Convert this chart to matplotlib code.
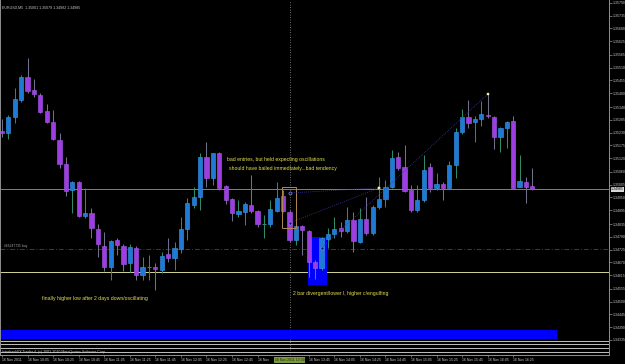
import matplotlib
matplotlib.use('Agg')
import matplotlib.pyplot as plt
from matplotlib.patches import Rectangle

plt.rcParams['font.family'] = ['Liberation Sans', 'DejaVu Sans']

# ---- data: EURUSD M5 candles (16 Nov 2011, from 09:45) ----
opens = [1.35237, 1.35228, 1.35297, 1.35371, 1.35470, 1.35414, 1.35392, 1.35323, 1.35276, 1.35198,
         1.35095, 1.34982, 1.35017, 1.34870, 1.34883, 1.34814, 1.34741, 1.34650, 1.34767, 1.34741,
         1.34667, 1.34732, 1.34616, 1.34650, 1.34650, 1.34637, 1.34706, 1.34689, 1.34728, 1.34814,
         1.34918, 1.34952, 1.35125, 1.35034, 1.35142, 1.35000, 1.34943, 1.34879, 1.34887, 1.34918,
         1.34892, 1.34836, 1.34836, 1.34892, 1.34956, 1.34887, 1.34767, 1.34827, 1.34805, 1.34672,
         1.34646, 1.34771, 1.34792, 1.34818, 1.34805, 1.34853, 1.34758, 1.34857, 1.34797, 1.34909,
         1.34943, 1.34995, 1.35125, 1.35082, 1.34982, 1.34896, 1.34939, 1.35082, 1.34991, 1.35008,
         1.34991, 1.35090, 1.35233, 1.35297, 1.35276, 1.35289, 1.35304, 1.35297, 1.35211, 1.35250,
         1.35280, 1.34995, 1.35017, 1.35001]
highs = [1.35289, 1.35306, 1.35422, 1.35478, 1.35552, 1.35461, 1.35401, 1.35353, 1.35327, 1.35228,
         1.35125, 1.35021, 1.35021, 1.34991, 1.34905, 1.34836, 1.34801, 1.34767, 1.34775, 1.34749,
         1.34749, 1.34741, 1.34693, 1.34702, 1.34667, 1.34715, 1.34775, 1.34758, 1.34866, 1.34948,
         1.34995, 1.35142, 1.35189, 1.35142, 1.35146, 1.35004, 1.34948, 1.34939, 1.34931, 1.35047,
         1.34896, 1.34874, 1.34939, 1.35017, 1.34982, 1.34896, 1.34831, 1.34831, 1.34810, 1.34680,
         1.34780, 1.34818, 1.34866, 1.34844, 1.34909, 1.34887, 1.34905, 1.34952, 1.34918, 1.35038,
         1.35026, 1.35155, 1.35146, 1.35177, 1.35004, 1.35004, 1.35133, 1.35099, 1.35056, 1.35017,
         1.35107, 1.35250, 1.35332, 1.35371, 1.35302, 1.35366, 1.35401, 1.35302, 1.35254, 1.35280,
         1.35302, 1.35133, 1.35038, 1.35079]
lows = [1.35211, 1.35202, 1.35271, 1.35362, 1.35401, 1.35384, 1.35314, 1.35271, 1.35198, 1.35077,
        1.34956, 1.34883, 1.34866, 1.34862, 1.34775, 1.34693, 1.34633, 1.34594, 1.34702, 1.34633,
        1.34629, 1.34594, 1.34594, 1.34594, 1.34551, 1.34624, 1.34672, 1.34637, 1.34711, 1.34767,
        1.34905, 1.34896, 1.34995, 1.35004, 1.34982, 1.34922, 1.34849, 1.34866, 1.34831, 1.34883,
        1.34823, 1.34775, 1.34823, 1.34887, 1.34887, 1.34758, 1.34745, 1.34702, 1.34607, 1.34598,
        1.34637, 1.34732, 1.34775, 1.34780, 1.34797, 1.34715, 1.34754, 1.34788, 1.34788, 1.34900,
        1.34909, 1.34991, 1.35069, 1.34974, 1.34887, 1.34887, 1.34931, 1.34974, 1.34982, 1.34939,
        1.34991, 1.35034, 1.35224, 1.35250, 1.35189, 1.35258, 1.35293, 1.35159, 1.35146, 1.35164,
        1.34987, 1.34995, 1.34926, 1.34982]
closes = [1.35228, 1.35297, 1.35375, 1.35470, 1.35409, 1.35396, 1.35319, 1.35276, 1.35202, 1.35095,
          1.34978, 1.35017, 1.34870, 1.34883, 1.34818, 1.34749, 1.34650, 1.34762, 1.34745, 1.34663,
          1.34736, 1.34616, 1.34650, 1.34650, 1.34642, 1.34698, 1.34689, 1.34732, 1.34814, 1.34926,
          1.34952, 1.35125, 1.35034, 1.35142, 1.34991, 1.34939, 1.34883, 1.34892, 1.34922, 1.34892,
          1.34836, 1.34836, 1.34900, 1.34948, 1.34892, 1.34767, 1.34827, 1.34810, 1.34672, 1.34646,
          1.34775, 1.34792, 1.34814, 1.34805, 1.34853, 1.34762, 1.34857, 1.34797, 1.34909, 1.34943,
          1.34995, 1.35120, 1.35077, 1.34978, 1.34896, 1.34939, 1.35069, 1.34991, 1.35008, 1.34991,
          1.35090, 1.35233, 1.35297, 1.35271, 1.35289, 1.35310, 1.35300, 1.35211, 1.35250, 1.35276,
          1.34991, 1.35021, 1.34995, 1.34985]

# time labels (the 13:05 label is partly hidden by the cursor box, 13:25 fully hidden)
time_tick_idx = [0, 4, 8, 12, 16, 20, 24, 28, 32, 36, 40, 48, 52, 56, 60, 64, 68, 72, 76, 80]
time_tick_labels = ['16 Nov 2011', '16 Nov 10:05', '16 Nov 10:25', '16 Nov 10:45', '16 Nov 11:05',
                    '16 Nov 11:25', '16 Nov 11:45', '16 Nov 12:05', '16 Nov 12:25', '16 Nov 12:45',
                    '16 Nov', '16 Nov 13:45', '16 Nov 14:05', '16 Nov 14:25',
                    '16 Nov 14:45', '16 Nov 15:05', '16 Nov 15:25', '16 Nov 15:45', '16 Nov 16:05',
                    '16 Nov 16:25']
price_ticks = [1.35790, 1.35735, 1.35680, 1.35625, 1.35565, 1.35510, 1.35455, 1.35400, 1.35340,
               1.35285, 1.35230, 1.35175, 1.35120, 1.35060, 1.35005, 1.34950, 1.34895, 1.34835,
               1.34780, 1.34725, 1.34670, 1.34615, 1.34555, 1.34500, 1.34445, 1.34390, 1.34335]
price_labels = ['%.5f' % p for p in price_ticks]

bid_price = 1.34985
support_level = 1.34629
order_level = 1.34727
order_label = '#65247735 buy'
cursor_idx = 45
cursor_label = '16 Nov 2011 13:30'

# trade arrows: (open idx, open price, close idx, close price)
trade_open_idx = [45, 45, 50]
trade_open_px = [1.34969, 1.34840, 1.34732]
trade_close_idx = [59, 59, 76]
trade_close_px = [1.34991, 1.34991, 1.35396]

# rectangles (idx0, idx1, price_low, price_high)
box_orange = (43.8, 46.0, 1.34818, 1.34995)
box_blue = (47.9, 50.9, 1.34573, 1.34780)

notes = [
    (35.2, 1.35112, 'bad entries, but held expecting oscillations'),
    (35.5, 1.35073, 'should have bailed immediately...bad tendency'),
    (45.5, 1.34534, '2 bar divergent/lower l, higher c/engulfing'),
    (6.3, 1.34512, 'finally higher low after 2 days down/oscillating'),
]
title_text = 'EURUSD,M5  1.35001 1.35079 1.34982 1.34985'
footer_text = 'InterbankFX Trader 4, (c) 2001-2010 MetaQuotes Software Corp.'

bottom_bar = (1.34340, 1.34378)
bottom_lines = [1.34329, 1.34316, 1.34301, 1.34283]

# ---- style ----
BULL_FACE, BULL_EDGE, BULL_WICK = '#1e7ad4', '#3a9af0', '#2e8b67'
BEAR_FACE, BEAR_EDGE, BEAR_WICK = '#9c3ee2', '#ab58f0', '#707088'
TXT = '#e8e050'
GREY = '#c8c8c8'

W, H = 625, 364
fig = plt.figure(figsize=(W / 100, H / 100), dpi=100, facecolor='black')
ax = fig.add_axes([0, 9 / H, 609 / W, 355 / H], facecolor='black')
ax.set_xlim(-0.313, 94.99)
ax.set_ylim(1.34270, 1.35802)

# horizontal lines / objects
ax.axhline(bid_price, color='#808080', lw=0.7, zorder=1)
ax.axhline(support_level, color='#d4d49a', lw=0.7, zorder=1)
ax.axhline(order_level, color='#8b1a1a', lw=0.7, ls=(0, (5, 2, 1, 2)), zorder=1)
ax.text(0.3, order_level + 0.00004, order_label, fontsize=2.4, color='#a0a0a0', va='bottom', ha='left')
ax.axvline(cursor_idx, color='#909090', lw=0.6, ls=(0, (1, 2)), zorder=1)

ax.add_patch(Rectangle((box_blue[0], box_blue[2]), box_blue[1] - box_blue[0], box_blue[3] - box_blue[2],
                       facecolor='#0000ff', edgecolor='none', zorder=1.5))
ax.add_patch(Rectangle((box_orange[0], box_orange[2]), box_orange[1] - box_orange[0],
                       box_orange[3] - box_orange[2], facecolor='none', edgecolor='#b08850',
                       lw=0.7, zorder=4))

ax.axhspan(bottom_bar[0], bottom_bar[1], xmin=0, xmax=557 / 609, color='#0000ff', lw=0, zorder=1)
for p in bottom_lines:
    ax.axhline(p, color='#c0c0c0', lw=0.7, zorder=1)

# candles
bw = 0.66
for i, (o, h, l, c) in enumerate(zip(opens, highs, lows, closes)):
    up = c >= o
    wick = BULL_WICK if up else BEAR_WICK
    ax.vlines(i, l, h, color=wick, lw=0.75, zorder=2)
    if o == c:
        ax.hlines(o, i - bw / 2, i + bw / 2, color=wick, lw=0.8, zorder=3)
    else:
        ax.bar(i, abs(c - o), bottom=min(o, c), width=bw,
               color=BULL_FACE if up else BEAR_FACE,
               edgecolor=BULL_EDGE if up else BEAR_EDGE, lw=0.4, zorder=3)

# trade lines and markers
for x0, p0, x1, p1 in zip(trade_open_idx, trade_open_px, trade_close_idx, trade_close_px):
    ax.plot([x0, x1], [p0, p1], color='#3a3aa8', lw=0.6, ls=(0, (1, 1.5)), zorder=4)
ax.plot(trade_open_idx, trade_open_px, 'o', ms=2.2, mfc='#101040', mec='#8080ff', mew=0.5, zorder=5, ls='none')
ax.plot(trade_close_idx, trade_close_px, 's', ms=1.6, mfc='#ffffc0', mec='#e0d080', mew=0.3, zorder=5, ls='none')

# notes
for x, y, t in notes:
    ax.text(x, y, t, fontsize=3.7, color=TXT, ha='left', va='center', zorder=6)

ax.text(0.004, 0.985, title_text, transform=ax.transAxes, fontsize=2.6, color=GREY,
        ha='left', va='top')
ax.text(0.004, 0.003, footer_text, transform=ax.transAxes, fontsize=2.6, color=GREY,
        ha='left', va='bottom', zorder=6)

# axes frame
ax.spines['top'].set_visible(False)
for s in ['left', 'right', 'bottom']:
    ax.spines[s].set_color('#909090')
    ax.spines[s].set_linewidth(0.7)

ax.yaxis.tick_right()
ax.set_yticks(price_ticks)
ax.set_yticklabels(price_labels)
ax.tick_params(axis='y', colors='#909090', labelcolor=GREY, labelsize=2.5, length=2, width=0.5, pad=0.8)
ax.set_xticks(time_tick_idx)
ax.set_xticklabels(time_tick_labels)
ax.tick_params(axis='x', colors='#909090', labelcolor=GREY, labelsize=2.5, length=1.5, width=0.5, pad=0.6)
for lab in ax.get_xticklabels():
    lab.set_ha('left')

# bid price label on axis
ax.annotate('%.5f' % bid_price, xy=(1.0, bid_price), xycoords=('axes fraction', 'data'),
            xytext=(1.5, 0), textcoords='offset points', fontsize=2.5, color='black', va='center',
            ha='left', bbox=dict(boxstyle='square,pad=0.15', fc='#d8d8d8', ec='none'), zorder=10,
            annotation_clip=False)
# cursor time label
ax.annotate(cursor_label, xy=(cursor_idx, 0), xycoords=('data', 'axes fraction'),
            xytext=(0, -2.2), textcoords='offset points', fontsize=2.5, color='#202010',
            va='top', ha='center', bbox=dict(boxstyle='square,pad=0.25', fc='#7a9a3a', ec='none'),
            zorder=10, annotation_clip=False)

fig.savefig('out.png', dpi=100, facecolor='black')
